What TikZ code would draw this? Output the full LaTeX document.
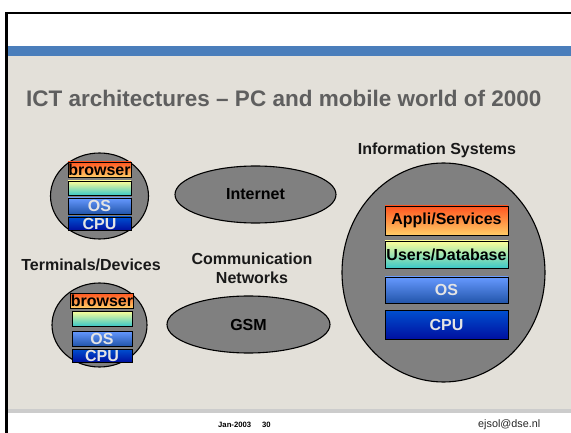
\documentclass[tikz,border=0pt]{standalone}
\usepackage{fontspec}
\setmainfont{Liberation Sans}
\usetikzlibrary{shapes.geometric}
\definecolor{bgbeige}{HTML}{E3E0D9}
\definecolor{bandblue}{HTML}{4A7EBB}
\definecolor{footgray}{HTML}{CCCCCC}
\definecolor{titlegray}{HTML}{5F5F5F}
\definecolor{blobgray}{HTML}{808080}
\definecolor{orTop}{HTML}{FF5520}
\definecolor{orBot}{HTML}{FFCC66}
\definecolor{yeTop}{HTML}{FFFF99}
\definecolor{yeBot}{HTML}{3CC8C8}
\definecolor{osTop}{HTML}{6699FF}
\definecolor{osBot}{HTML}{2255AA}
\definecolor{cpuTop}{HTML}{0050D0}
\definecolor{cpuBot}{HTML}{0010A0}
\definecolor{lighttext}{HTML}{E4E4E4}
\begin{document}
\begin{tikzpicture}[x=1pt,y=-1pt,
  blob/.style={ellipse, draw=black, line width=1.1pt, fill=blobgray, inner sep=0pt},
  layer/.style={rectangle, draw=black, line width=0.8pt, inner sep=0pt, font=\fontsize{16}{16}\selectfont\bfseries},
  applil/.style={layer, top color=orTop, bottom color=orBot, text=black},
  userl/.style={layer, top color=yeTop, bottom color=yeBot, text=black},
  osl/.style={layer, top color=osTop, bottom color=osBot, text=lighttext},
  cpul/.style={layer, top color=cpuTop, bottom color=cpuBot, text=lighttext},
  lbl/.style={font=\fontsize{16}{19}\selectfont\bfseries, text=black!90, align=center, inner sep=0pt}
]
\useasboundingbox (0,0) rectangle (571,433);
% slide background
\fill[white] (0,0) rectangle (571,433);
\fill[bgbeige] (8,56) rectangle (571,409);
\fill[bandblue] (8,46) rectangle (571,56);
\fill[footgray] (8,409) rectangle (571,413);
\fill[black] (5,12) rectangle (8,433);
\fill[black] (5,12) rectangle (571,14.5);

% title
\node[anchor=west, inner sep=0pt, text=titlegray, font=\fontsize{22.5}{24}\selectfont\bfseries] (title) at (26,98) {ICT architectures – PC and mobile world of 2000};

% terminal 1
\node[blob, minimum width=98pt, minimum height=86pt] (term1) at (99.5,196) {};
\node[applil, minimum width=63pt, minimum height=15pt] (t1app) at (99.5,169.5) {browser};
\node[userl, minimum width=63pt, minimum height=14pt] (t1usr) at (99.5,188) {};
\node[osl, minimum width=63pt, minimum height=16pt] (t1os) at (99.5,206) {OS};
\node[cpul, minimum width=63pt, minimum height=13pt] (t1cpu) at (99.5,223.5) {CPU};

% terminal 2
\node[blob, minimum width=95pt, minimum height=84pt] (term2) at (99.5,325) {};
\node[applil, minimum width=60pt, minimum height=15pt] (t2app) at (102,300.5) {browser};
\node[userl, minimum width=60pt, minimum height=15pt] (t2usr) at (102,318.5) {};
\node[osl, minimum width=60pt, minimum height=15pt] (t2os) at (102,338.5) {OS};
\node[cpul, minimum width=60pt, minimum height=13pt] (t2cpu) at (102,355.5) {CPU};

\node[lbl] (termlbl) at (91,265) {Terminals/Devices};

% networks
\node[blob, minimum width=161pt, minimum height=57pt, font=\fontsize{16}{16}\selectfont\bfseries] (internet) at (255.5,194.5) {Internet};
\node[blob, minimum width=163pt, minimum height=57pt, font=\fontsize{16}{16}\selectfont\bfseries] (gsm) at (248.5,324.5) {GSM};
\node[lbl] (netlbl) at (252,268) {Communication\\Networks};

% information systems
\node[lbl] (islbl) at (437,150) {Information Systems};
\node[blob, minimum width=203pt, minimum height=219pt] (infosys) at (443.5,272.5) {};
\node[applil, minimum width=123pt, minimum height=29pt] (isapp) at (446.5,220.5) {Appli/Services};
\node[userl, minimum width=123pt, minimum height=27pt] (isusr) at (446.5,254.5) {Users/Database};
\node[osl, minimum width=123pt, minimum height=26pt] (isos) at (446.5,290) {OS};
\node[cpul, minimum width=123pt, minimum height=29pt] (iscpu) at (446.5,324.5) {CPU};

% footer
\node[anchor=base west, inner sep=0pt, font=\fontsize{7.7}{9}\selectfont\bfseries] (fdate) at (218,427) {Jan-2003};
\node[anchor=base west, inner sep=0pt, font=\fontsize{7.7}{9}\selectfont\bfseries] (fpage) at (262,427) {30};
\node[anchor=base west, inner sep=0pt, text=black!85, font=\fontsize{10.8}{12}\selectfont] (fmail) at (478,427) {ejsol@dse.nl};
\end{tikzpicture}
\end{document}
